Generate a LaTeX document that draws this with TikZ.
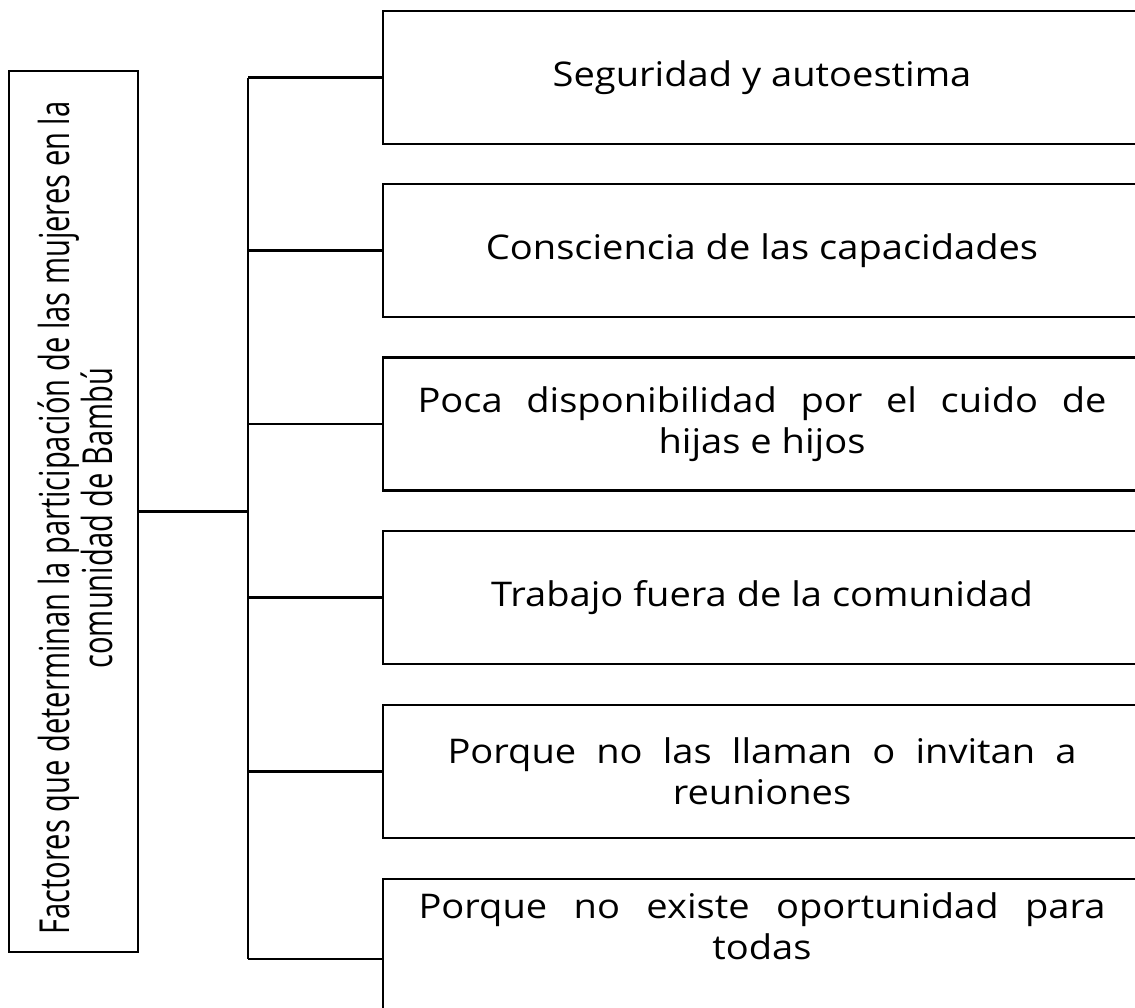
\documentclass[tikz,border=0pt]{standalone}
\usepackage{fontspec}
\setmainfont[FakeStretch=1.12]{Open Sans}
\newfontfamily\condfont[FakeStretch=0.705]{Open Sans}

\tikzset{
    factor/.style={draw, line width=1.6pt, minimum width=568.5pt, minimum height=99.75pt, inner sep=0pt},
    factortext/.style={align=center, inner sep=0pt, font=\fontsize{25.5}{31}\selectfont},
    link/.style={line width=1.6pt},
}

\begin{document}
\begin{tikzpicture}[x=0.75pt,y=0.75pt,yscale=-1,xscale=1]
    \clip (0,0) rectangle (1135,1007);

    %Shape: Rectangle [title]
    \node [draw, line width=1.6pt, minimum width=96.75pt, minimum height=660.75pt, inner sep=0pt] (factores) at (73.5,511.5) {};
    % Text Node
    \node [rotate=90, align=center, inner sep=0pt, font=\condfont\fontsize{31}{30}\selectfont] (titulo) at (75,518) {Factores que determinan la participación de las mujeres en la\\comunidad de Bambú};

    %Shape: Rectangles [factors]
    \node [factor, factortext] (f1) at (762,77.5) {Seguridad y autoestima};
    \node [factor, factortext] (f2) at (762,250.5) {Consciencia de las capacidades};
    \node [factor, factortext] (f3) at (762,424) {\makebox[516.75pt][s]{Poca disponibilidad por el cuido de}\\hijas e hijos};
    \node [factor, factortext] (f4) at (762,597.5) {Trabajo fuera de la comunidad};
    \node [factor, factortext] (f5) at (762,771.5) {\makebox[471.75pt][s]{Porque no las llaman o invitan a}\\reuniones};
    \node [factor, minimum height=120pt] (f6) at (762,959) {};
    % Text Node
    \node [factortext] (t6) at (762,926) {\makebox[515.25pt][s]{Porque no existe oportunidad para}\\todas};

    %Straight Lines
    \coordinate (hub) at (248,511.5);
    \draw [link] (factores.east) -- (hub);
    \draw [link] (f1.west -| hub) -- (f6.west -| hub);
    \foreach \i in {1,...,6}
        \draw [link] (f\i.west -| hub) -- (f\i.west);
\end{tikzpicture}
\end{document}
